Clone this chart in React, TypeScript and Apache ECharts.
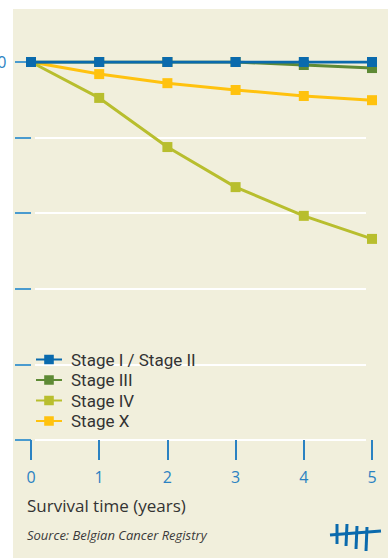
import React, { useEffect, useRef } from "react";
import * as echarts from "echarts";

const years = [0, 1, 2, 3, 4, 5];
const stageI_II = [100, 100, 100, 100, 100, 100];
const stageIII = [100, 100, 100, 100, 99.2, 98.4];
const stageIV = [100, 90.5, 77.5, 66.9, 59.3, 53.2];
const stageX = [100, 96.8, 94.4, 92.6, 91.0, 89.9];
const seriesNames = ["Stage I / Stage II", "Stage III", "Stage IV", "Stage X"];
const seriesColors = ["#0a6aad", "#5e8a35", "#b8be2e", "#ffc20e"];
const xTitle = "Survival time (years)";
const sourceText = "Source: Belgian Cancer Registry";

const FONT = "'Open Sans', 'Noto Sans', sans-serif";

export default function App() {
  const ref = useRef<HTMLDivElement>(null);
  useEffect(() => {
    if (!ref.current) return;
    const chart = echarts.init(ref.current, null, { renderer: "svg" });
    const all = [stageI_II, stageIII, stageIV, stageX];
    const mk = (i: number) => ({
      name: seriesNames[i],
      type: "line",
      xAxisIndex: 0,
      yAxisIndex: 0,
      data: years.map((x, k) => [x, all[i][k]]),
      symbol: "rect",
      symbolSize: 10,
      lineStyle: { width: 3, color: seriesColors[i] },
      itemStyle: { color: seriesColors[i] },
      z: 10 - i,
    });
    const axisBlue = "#2b82c2";
    chart.setOption({
      animation: false,
      backgroundColor: "#ffffff",
      graphic: [
        {
          type: "rect",
          shape: { x: 13, y: 9, width: 375, height: 549 },
          style: { fill: "#f1efdc" },
          z: -10,
        },
        {
          type: "text",
          left: 27,
          top: 497,
          style: { text: xTitle, font: `17px ${FONT}`, fill: "#333333" },
        },
        {
          type: "text",
          left: 27,
          top: 528,
          style: { text: sourceText, font: `italic 13px ${FONT}`, fill: "#3a3a3a" },
        },
        {
          type: "group",
          children: [
            { type: "polyline", shape: { points: [[337, 524], [337, 544]] }, style: { stroke: "#0a6aad", lineWidth: 3 } },
            { type: "polyline", shape: { points: [[347, 524], [346, 546]] }, style: { stroke: "#0a6aad", lineWidth: 3 } },
            { type: "polyline", shape: { points: [[357, 526], [356, 549]] }, style: { stroke: "#0a6aad", lineWidth: 3 } },
            { type: "polyline", shape: { points: [[367, 527], [366, 551]] }, style: { stroke: "#0a6aad", lineWidth: 3 } },
            { type: "polyline", shape: { points: [[330, 535], [355, 533], [381, 531]] }, style: { stroke: "#0a6aad", lineWidth: 3 } },
          ],
        },
      ],
      grid: [
        { left: 31, right: 16, top: 62, bottom: 118, outerBoundsMode: "none", containLabel: false },
        { left: 35, right: 22, top: 62, bottom: 118, outerBoundsMode: "none", containLabel: false },
      ],
      xAxis: [
        {
          type: "value",
          gridIndex: 0,
          min: 0,
          max: 5,
          interval: 1,
          offset: 3,
          axisLine: { show: false },
          axisTick: { show: true, length: 20, lineStyle: { color: axisBlue, width: 2 } },
          axisLabel: { color: axisBlue, fontSize: 16, fontFamily: FONT, margin: 26 },
          splitLine: { show: false },
        },
        {
          type: "value",
          gridIndex: 1,
          min: 0,
          max: 5,
          show: false,
        },
      ],
      yAxis: [
        {
          type: "value",
          gridIndex: 0,
          min: 0,
          max: 100,
          interval: 20,
          offset: 2,
          axisLine: { show: false },
          axisTick: { show: true, length: 16, lineStyle: { color: "#4a9bcf", width: 2 } },
          axisLabel: {
            color: axisBlue,
            fontSize: 16,
            fontFamily: FONT,
            align: "left",
            margin: 50,
            formatter: (v: number) => (v === 100 ? "100" : ""),
          },
          splitLine: { show: false },
        },
        {
          type: "value",
          gridIndex: 1,
          min: 0,
          max: 100,
          interval: 20,
          axisLine: { show: false },
          axisTick: { show: false },
          axisLabel: { show: false },
          splitLine: { show: true, lineStyle: { color: "#ffffff", width: 2 } },
        },
      ],
      legend: {
        data: seriesNames,
        orient: "vertical",
        left: 30,
        top: 346,
        itemWidth: 26,
        itemHeight: 12,
        itemGap: 3.5,
        textStyle: {
          fontSize: 17,
          lineHeight: 17,
          color: "#333333",
          fontFamily: "Roboto, 'Open Sans', sans-serif",
          padding: [0, 0, 0, 4],
        },
      },
      series: [mk(3), mk(2), mk(1), mk(0)],
    });
    return () => chart.dispose();
  }, []);
  return (
    <div
      ref={ref}
      style={{ position: "absolute", left: 0, top: 0, width: 388, height: 558 }}
    />
  );
}
